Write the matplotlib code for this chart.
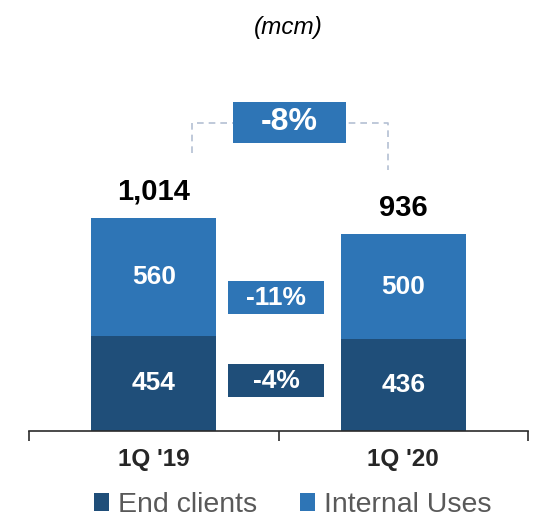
import matplotlib
matplotlib.use("Agg")
import matplotlib.pyplot as plt
from matplotlib.patches import Rectangle

# data
categories = ["1Q '19", "1Q '20"]
end_clients = [454, 436]
internal_uses = [560, 500]
totals = ["1,014", "936"]
segment_changes = ["-4%", "-11%"]
total_change = "-8%"

dark = "#1F4E79"
light = "#2E75B6"

plt.rcParams['font.family'] = ['Liberation Sans Narrow', 'Liberation Sans', 'DejaVu Sans']

fig = plt.figure(figsize=(5.37, 5.17), dpi=100)
ax = fig.add_axes([29 / 537, 86 / 517, 499 / 537, 431 / 517])

x = [0, 1]
b1 = ax.bar(x, end_clients, width=0.5, color=dark, label="End clients")
b2 = ax.bar(x, internal_uses, width=0.5, bottom=end_clients, color=light, label="Internal Uses")

ax.set_xlim(-0.5, 1.5)
ax.set_ylim(0, 2052)

# segment labels
for i in range(2):
    ax.text(x[i], end_clients[i] / 2, str(end_clients[i]), ha="center", va="center",
            color="white", fontsize=19, fontweight="bold")
    ax.text(x[i], end_clients[i] + internal_uses[i] / 2, str(internal_uses[i]), ha="center",
            va="center", color="white", fontsize=19, fontweight="bold")
    top = end_clients[i] + internal_uses[i]
    ax.text(x[i], top + 125, totals[i], ha="center", va="center", color="black",
            fontsize=21, fontweight="bold")

# change boxes between the bars
ax.add_patch(Rectangle((0.298, 162), 0.385, 157, color=dark, lw=0))
ax.text(0.49, 240, segment_changes[0], ha="center", va="center", color="white",
        fontsize=19, fontweight="bold")
ax.add_patch(Rectangle((0.298, 557), 0.385, 157, color=light, lw=0))
ax.text(0.49, 635, segment_changes[1], ha="center", va="center", color="white",
        fontsize=19, fontweight="bold")

# total change bracket
ax.plot([0.153, 0.153, 0.939, 0.939], [1324, 1467, 1467, 1243], ls=(0, (4, 3)),
        color="#B4C0D3", lw=1.2, zorder=1)
ax.add_patch(Rectangle((0.318, 1371), 0.453, 196, color=light, lw=0, zorder=2))
ax.text(0.544, 1469, total_change, ha="center", va="center", color="white",
        fontsize=23, fontweight="bold", zorder=3)

# axes styling
for s in ["top", "right", "left"]:
    ax.spines[s].set_visible(False)
ax.spines["bottom"].set_color("#2B2B2B")
ax.spines["bottom"].set_linewidth(1.2)
ax.set_yticks([])
ax.set_xticks(x)
ax.set_xticklabels(categories, fontsize=17.5, fontweight="bold", color="#262626")
ax.tick_params(axis="x", length=0, pad=12)
ax.set_xticks([-0.5, 0.5, 1.5], minor=True)
ax.tick_params(axis="x", which="minor", length=7, width=1.2, color="#2B2B2B", direction="out")

fig.text(0.536, 0.946, "(mcm)", ha="center", va="center", fontsize=17.5, style="italic", color="black")

fig.legend(handles=[b1, b2], loc="center", bbox_to_anchor=(0.545, 0.023), ncol=2,
           frameon=False, fontsize=20.5, labelcolor="#595959", handlelength=0.55,
           handleheight=0.55, handletextpad=0.3, columnspacing=1.5, borderaxespad=0)

fig.savefig("out.png", dpi=100)
